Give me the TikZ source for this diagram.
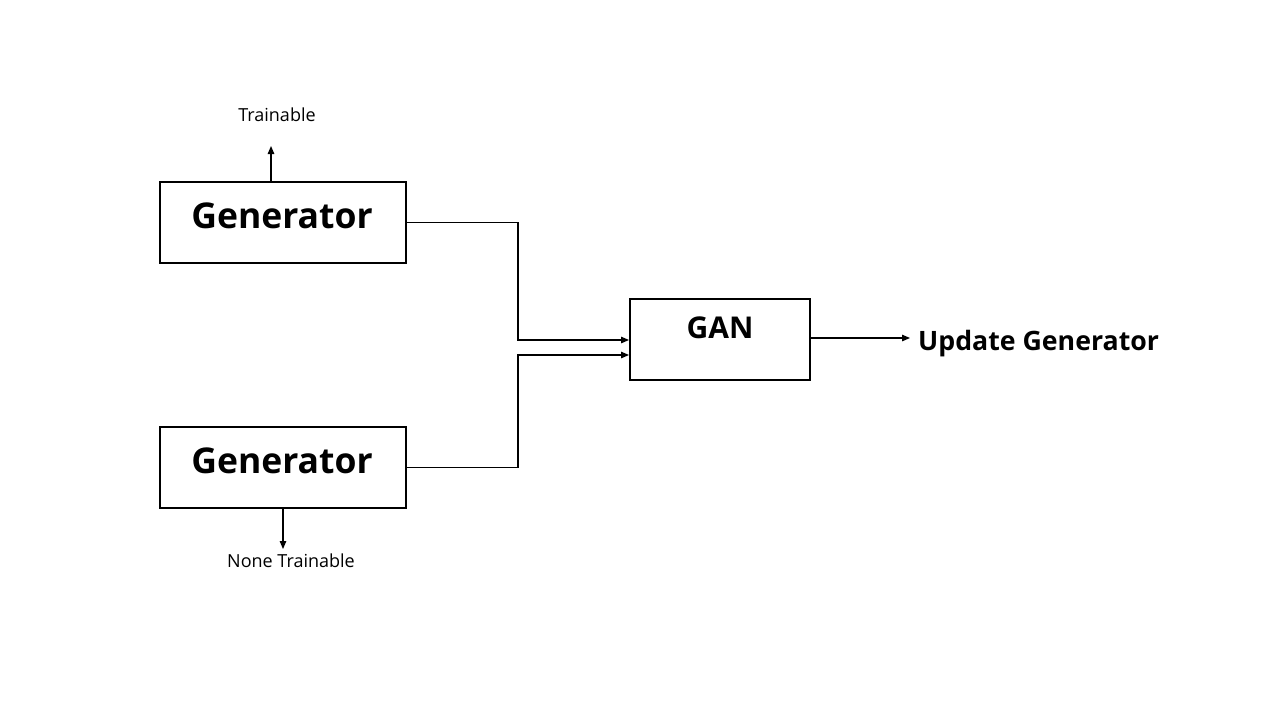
\documentclass[tikz,border=0pt]{standalone}
\usepackage{fontspec}
\setmainfont{Open Sans}
\usetikzlibrary{arrows.meta}
\begin{document}
\begin{tikzpicture}[x=1pt,y=-1pt,
  box/.style={draw=black,line width=2pt,fill=white,inner sep=0pt},
  big/.style={font=\bfseries\fontsize{35.5}{40}\selectfont,anchor=base,inner sep=0pt},
  mid/.style={font=\bfseries\fontsize{30}{34}\selectfont,anchor=base,inner sep=0pt},
  upd/.style={font=\bfseries\fontsize{26.7}{32}\selectfont,anchor=base west,inner sep=0pt},
  small/.style={font=\fontsize{18}{21}\selectfont,anchor=base,inner sep=0pt},
  conn/.style={line width=1.3pt,-{Triangle[length=8pt,width=6.5pt]}},
  seg/.style={line width=1.3pt}]
\useasboundingbox (0,0) rectangle (1280,720);
\node[box,minimum width=246pt,minimum height=81pt] (g1) at (283,222.5) {};
\node[box,minimum width=246pt,minimum height=81pt] (g2) at (283,467.5) {};
\node[box,minimum width=180pt,minimum height=81pt] (gan) at (720,339.5) {};
\node[big] (g1t) at (282,228) {Generator};
\node[big] (g2t) at (282,473) {Generator};
\node[mid] (gant) at (720,338) {GAN};
\node[upd] (updt) at (918,350) {Update Generator};
\node[small] (tr) at (277,121) {Trainable};
\node[small] (ntr) at (291,567) {None Trainable};
\coordinate (trtip) at (271,146);
\coordinate (ntrtip) at (283,549);
\coordinate (updtip) at (910,338);
\draw[conn] (g1.north -| trtip) -- (trtip);
\draw[conn] (g2.south -| ntrtip) -- (ntrtip);
\draw[conn] (gan.east |- updtip) -- (updtip);
\draw[conn] (g1.east) -- (518,222.5) -- (518,340) -- (gan.west |- 0,340);
\draw[conn] (g2.east) -- (518,467.5) -- (518,355) -- (gan.west |- 0,355);
\end{tikzpicture}
\end{document}
